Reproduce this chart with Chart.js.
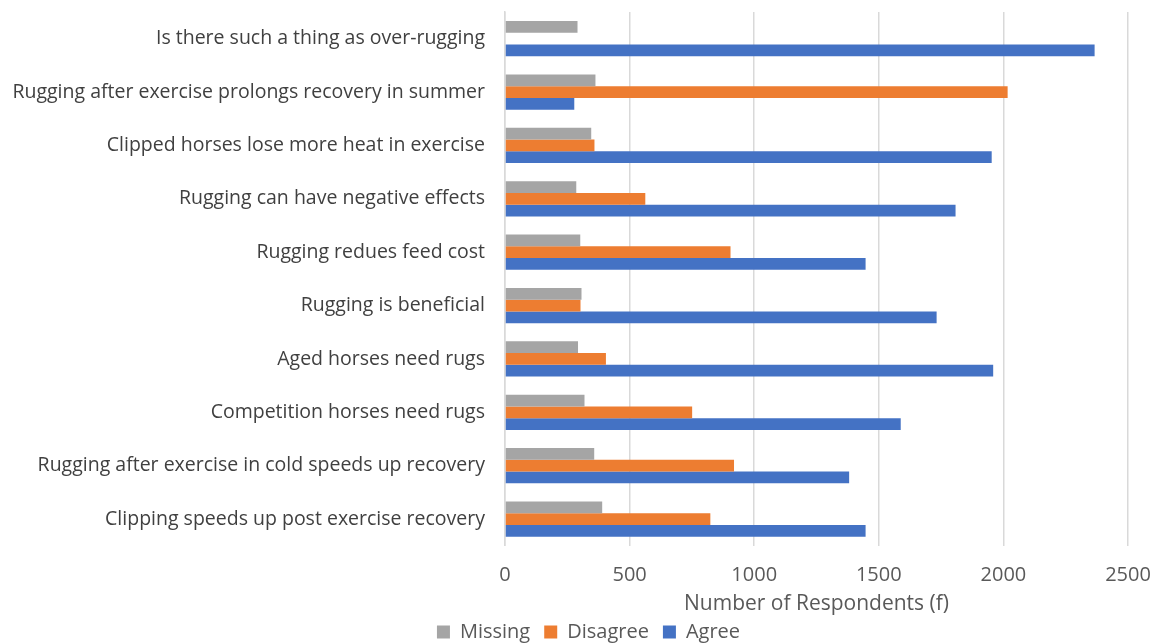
<!DOCTYPE html>
<html>
<head>
<meta charset="utf-8">
<script src="https://cdn.jsdelivr.net/npm/chart.js@4/dist/chart.umd.min.js"></script>
<style>
html,body{margin:0;padding:0;background:#fff;}
#wrap{width:1151px;height:643px;position:relative;}
</style>
</head>
<body>
<div id="wrap"><canvas id="c"></canvas></div>
<script>
const categories = [
  "Is there such a thing as over-rugging",
  "Rugging after exercise prolongs recovery in summer",
  "Clipped horses lose more heat in exercise",
  "Rugging can have negative effects",
  "Rugging redues feed cost",
  "Rugging is beneficial",
  "Aged horses need rugs",
  "Competition horses need rugs",
  "Rugging after exercise in cold speeds up recovery",
  "Clipping speeds up post exercise recovery"
];
const missing  = [291, 363, 346, 286, 302, 307, 293, 319, 358, 390];
const disagree = [0, 2017, 359, 563, 905, 303, 405, 751, 919, 824];
const agree    = [2366, 278, 1953, 1808, 1447, 1732, 1959, 1588, 1381, 1447];
const xTicks = [0, 500, 1000, 1500, 2000, 2500];

const FONT = "'Open Sans', 'Liberation Sans', sans-serif";
const TXT = '#595959';

const legendShift = {
  id: 'legendShift',
  afterLayout(chart) {
    if (chart.legend) { chart.legend.left += 13; chart.legend.right += 13; }
  }
};

new Chart(document.getElementById('c'), {
  type: 'bar',
  data: {
    labels: categories,
    datasets: [
      {label: 'Missing', data: missing, backgroundColor: '#A5A5A5'},
      {label: 'Disagree', data: disagree, backgroundColor: '#ED7D31'},
      {label: 'Agree', data: agree, backgroundColor: '#4472C4'}
    ]
  },
  plugins: [legendShift],
  options: {
    indexAxis: 'y',
    responsive: true,
    maintainAspectRatio: false,
    animation: false,
    layout: {padding: {top: 12, right: 0, bottom: -9, left: 0}},
    datasets: {bar: {categoryPercentage: 0.66, barPercentage: 1.0}},
    scales: {
      x: {
        min: 0, max: 2500,
        afterBuildTicks: (s) => { s.ticks = xTicks.map(v => ({value: v})); },
        afterFit: (s) => { s.paddingRight = 23; },
        grid: {color: '#d9d9d9', lineWidth: 1.5, drawTicks: false},
        border: {display: false},
        ticks: {color: TXT, font: {family: FONT, size: 20}, padding: 17,
                callback: (v) => String(v)},
        title: {display: true, text: 'Number of Respondents (f)', color: TXT,
                font: {family: FONT, size: 21}, padding: {top: -12, bottom: -9}}
      },
      y: {
        grid: {display: false, drawTicks: false},
        border: {display: true, color: '#d9d9d9', width: 1.5},
        ticks: {color: '#404040', font: {family: FONT, size: 19.5}, padding: 20},
        afterFit: (s) => { s.width = 505; s.paddingTop = 0; s.paddingBottom = 0; }
      }
    },
    plugins: {
      legend: {
        position: 'bottom',
        labels: {color: TXT, font: {family: FONT, size: 20}, boxWidth: 13, boxHeight: 13, padding: 14}
      },
      tooltip: {enabled: false}
    }
  }
});
</script>
</body>
</html>
